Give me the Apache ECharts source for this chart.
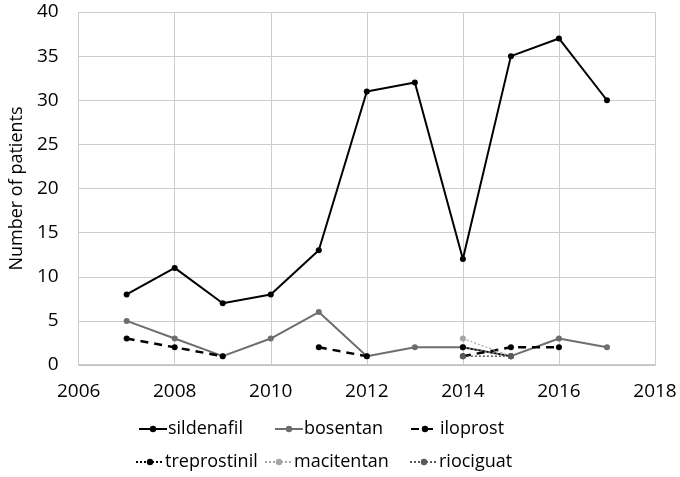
<!DOCTYPE html>
<html>
<head>
<meta charset="utf-8">
<script src="https://cdn.jsdelivr.net/npm/echarts@6/dist/echarts.min.js"></script>
<style>
  html, body { margin: 0; padding: 0; background: #fff; }
  #chart { width: 680px; height: 477px; }
</style>
</head>
<body>
<div id="chart"></div>
<script>
// years on the x axis
var years = [2007, 2008, 2009, 2010, 2011, 2012, 2013, 2014, 2015, 2016, 2017];

// patients per drug (null = no point)
var sildenafil   = [8, 11, 7, 8, 13, 31, 32, 12, 35, 37, 30];
var bosentan     = [5, 3, 1, 3, 6, 1, 2, 2, 1, 3, 2];
var iloprost     = [3, 2, 1, null, 2, 1, null, 1, 2, 2, null];
var treprostinil = [null, null, null, null, null, null, null, 2, 1, null, null];
var macitentan   = [null, null, null, null, null, null, null, 3, 1, null, null];
var riociguat    = [null, null, null, null, null, null, null, 1, 1, null, null];

var yTicks = { min: 0, max: 40, interval: 5 };
var xTicks = { min: 2006, max: 2018, interval: 2 };

function pairs(vals) {
  return years.map(function (y, i) { return [y, vals[i]]; });
}

function line(name, vals, color, width, type, symColor) {
  return {
    name: name,
    type: 'line',
    data: pairs(vals),
    symbol: 'circle',
    symbolSize: 6,
    connectNulls: false,
    lineStyle: { color: color, width: width, type: type },
    itemStyle: { color: symColor || color },
    emphasis: { disabled: true }
  };
}

var font = 'Open Sans';

// one legend box per entry so each sits where the reference has it
function legendAt(name, left, top) {
  return {
    data: [name],
    left: left, top: top,
    padding: 0,
    itemWidth: 28, itemHeight: 8,
    textStyle: { color: '#000', fontSize: 18, fontFamily: font, padding: [0, 0, 0, -4] }
  };
}

var myChart = echarts.init(document.getElementById('chart'));

var option = {
  animation: false,
  textStyle: { fontFamily: font },
  grid: { left: 70, right: 25, top: 12, bottom: 112 },
  xAxis: {
    type: 'value',
    min: xTicks.min, max: xTicks.max, interval: xTicks.interval,
    axisLine: { show: true, lineStyle: { color: '#bfbfbf', width: 1.5 } },
    axisTick: { show: false },
    axisLabel: {
      color: '#000', fontSize: 19, margin: 17, fontFamily: font,
      formatter: function (v) { return String(v); }
    },
    splitLine: { show: true, lineStyle: { color: '#cdcdcd', width: 1 } }
  },
  yAxis: {
    type: 'value',
    min: yTicks.min, max: yTicks.max, interval: yTicks.interval,
    name: 'Number of patients',
    nameLocation: 'middle',
    nameGap: 43,
    nameTextStyle: { color: '#000', fontSize: 18, fontFamily: font },
    axisLine: { show: false },
    axisTick: { show: false },
    axisLabel: { color: '#000', fontSize: 19, margin: 20, fontFamily: font },
    splitLine: { show: true, lineStyle: { color: '#cdcdcd', width: 1 } }
  },
  legend: [
    legendAt('sildenafil', 138, 420),
    legendAt('bosentan', 274, 420),
    legendAt('iloprost', 410, 420),
    legendAt('treprostinil', 135, 453),
    legendAt('macitentan', 264, 453),
    legendAt('riociguat', 409, 453)
  ],
  series: [
    line('sildenafil', sildenafil, '#000000', 2, 'solid'),
    line('bosentan', bosentan, '#6e6e6e', 2, 'solid'),
    line('iloprost', iloprost, '#000000', 2.5, [8, 6]),
    line('treprostinil', treprostinil, '#000000', 1.5, [2, 2]),
    line('macitentan', macitentan, '#a6a6a6', 1.2, [2, 2]),
    line('riociguat', riociguat, '#595959', 1.5, [2, 2])
  ]
};
myChart.setOption(option);
</script>
</body>
</html>
